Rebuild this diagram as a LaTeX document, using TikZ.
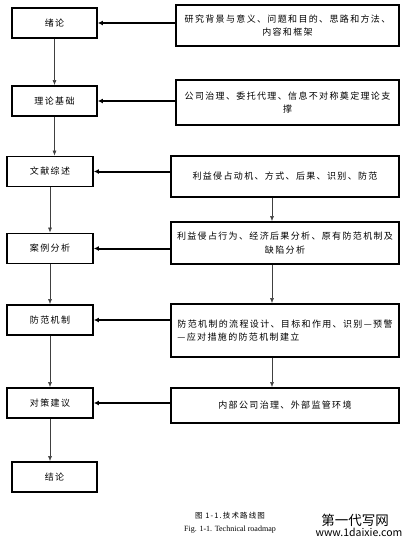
\documentclass[tikz,border=0pt]{standalone}
\usepackage{fontspec}
\setmainfont{Liberation Serif}
\newfontfamily\cjk[LetterSpace=15]{Noto Sans CJK SC}
\newfontfamily\wmfont{Noto Sans CJK SC}
\usetikzlibrary{arrows.meta}

\tikzset{
  lbox/.style={draw, line width=1.8pt, minimum width=85pt, minimum height=30pt, inner sep=0pt, font=\cjk\fontsize{9}{13}\selectfont},
  rbox/.style={draw, line width=1.8pt, minimum width=228pt, inner sep=0pt, align=center, font=\cjk\fontsize{9}{13.5}\selectfont},
  varrow/.style={-{Latex[length=5pt,width=4pt]}, line width=0.6pt, black!75},
  harrow/.style={-{Latex[length=5pt,width=5pt]}, line width=2pt},
}

\begin{document}
\begin{tikzpicture}[x=1pt,y=-1pt]
\useasboundingbox (0,0) rectangle (415,550);
% left column
\node[lbox] (intro) at (54.5,23) {绪论};
\node[lbox] (theory) at (54.5,101) {理论基础};
\node[lbox, minimum width=86pt] (review) at (50,171.5) {文献综述};
\node[lbox, minimum width=86pt] (cases) at (50,248.5) {案例分析};
\node[lbox, minimum width=86pt] (mech) at (50,320) {防范机制};
\node[lbox, minimum width=86pt] (advice) at (50,403) {对策建议};
\node[lbox] (concl) at (54.5,477) {结论};
% right column
\node[rbox, minimum width=223pt, minimum height=41pt] (bg) at (287.5,25.5) {研究背景与意义、问题和目的、思路和方法、\\内容和框架};
\node[rbox, minimum width=223pt, minimum height=45pt] (basis) at (287.5,102.5) {公司治理、委托代理、信息不对称奠定理论支\\撑};
\node[rbox, minimum height=41pt] (motive) at (285,176.5) {利益侵占动机、方式、后果、识别、防范};
\node[rbox, minimum height=42pt] (behav) at (285,243) {利益侵占行为、经济后果分析、原有防范机制及\\缺陷分析};
\node[rbox, minimum height=53pt, align=left] (design) at (285,330.5) {防范机制的流程设计、目标和作用、识别—预警\\—应对措施的防范机制建立};
\node[rbox, minimum height=35pt] (env) at (285,405.5) {内部公司治理、外部监管环境};
% arrows down
\draw[varrow] (intro.south) -- (intro.south |- theory.north);
\draw[varrow] (theory.south) -- (theory.south |- review.north);
\draw[varrow] (review.south) -- (review.south |- cases.north);
\draw[varrow] (cases.south) -- (cases.south |- mech.north);
\draw[varrow] (mech.south) -- (mech.south |- advice.north);
\draw[varrow] (advice.south) -- (advice.south |- concl.north);
\draw[varrow] ([xshift=-13pt]motive.south) -- ([xshift=-13pt]motive.south |- behav.north);
\draw[varrow] ([xshift=-13pt]behav.south) -- ([xshift=-13pt]behav.south |- design.north);
\draw[varrow] ([xshift=-13pt]design.south) -- ([xshift=-13pt]design.south |- env.north);
% arrows left
\draw[harrow] (bg.west |- intro) -- (intro.east);
\draw[harrow] (basis.west |- theory) -- (theory.east);
\draw[harrow] (motive.west |- review) -- (review.east);
\draw[harrow] (behav.west |- cases) -- (cases.east);
\draw[harrow] (design.west |- mech) -- (mech.east);
\draw[harrow] (env.west |- advice) -- (advice.east);
% caption
\node[font=\cjk\fontsize{7.5}{9}\selectfont] (capcn) at (230,516) {图 1-1.技术路线图};
\node[font=\fontsize{8}{9}\selectfont] (capen) at (230,530) {Fig. 1-1. Technical roadmap};
\node[font=\wmfont\fontsize{13.5}{14}\selectfont] (wmcn) at (355,520) {第一代写网};
\node[font=\wmfont\fontsize{10.5}{12}\selectfont] (wmen) at (359,532) {www.1daixie.com};
\end{tikzpicture}
\end{document}
